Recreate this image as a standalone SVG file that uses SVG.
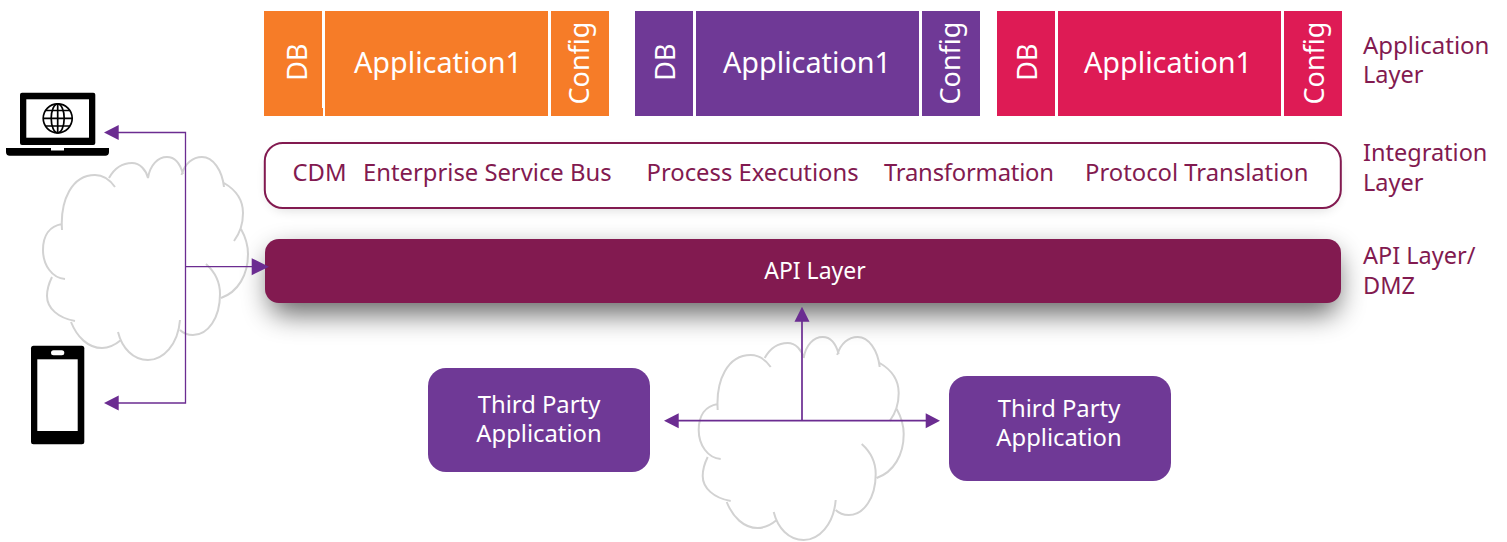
<svg xmlns="http://www.w3.org/2000/svg" width="1507" height="542" viewBox="0 0 1507 542">
<style>
text{font-family:"Noto Sans","Open Sans","Liberation Sans",sans-serif}
.w{fill:#fff}
.m{fill:#821a50}
.app{font-size:28.800px;text-anchor:middle}
.side{font-size:27px;text-anchor:middle}
.lay{font-size:23.500px}
.int{font-size:23.800px}
.tp{font-size:23.800px;text-anchor:middle}
.org{fill:#f67c28}.pur{fill:#6f3996}.red{fill:#de1b55}
.cloud{fill:none;stroke:#d2d2d2;stroke-width:2}
.ln{fill:none;stroke:#6b2c91}
.ah{fill:#6b2c91}
</style>
<defs>
<filter id="sh" x="-5%" y="-80%" width="110%" height="300%"><feGaussianBlur stdDeviation="14"/></filter>
<filter id="sh2" x="-5%" y="-40%" width="110%" height="180%"><feGaussianBlur stdDeviation="6"/></filter>
<g id="cl">
<path class="cloud" d="M62 230C60 200 72 175 95 175C104 175 110 180 115 187M109 178C114 169 122 163 132 163C140 163 146 170 148 178M148 178C150 165 158 157 167 157C174 157 180 163 183 174M181.500 175C185 163 193 157 202 157C213 157 222 170 224 187M224 183C236 190 243 200 243 213C243 224 240 233 234 241M241 229C246 238 248 245 248 254C248 275 238 292 221 298M206 264C215 272 220 282 220 294C220 318 208 335 193 335C188 335 183 333 180 330M180 320C178 345 163 360 148 360C133 360 122 348 118 332M121 340C115 345 109 348 102 348C88 348 77 337 71 322M75 321C58 318 47 308 47 296C47 289 49 283 52 277M65 279C52 278 43 265 43 250C43 235 50 226 62 224"/>
</g>
</defs>
<g id="cloud-left"><use href="#cl"/></g>
<g id="cloud-bottom"><use href="#cl" x="655.700" y="180"/></g>
<g id="app-orange">
<rect class="org" x="264" y="11" width="58" height="105"/><rect class="org" x="322" y="108" width="1" height="8"/><rect class="org" x="325" y="11" width="223" height="105"/><rect class="org" x="551" y="11" width="58" height="105"/>
<text class="side w" transform="translate(307,62) rotate(-90)">DB</text>
<text class="app w" x="438" y="73">Application1</text>
<text class="side w" transform="translate(588.500,63) rotate(-90)">Config</text>
</g>
<g id="app-purple">
<rect class="pur" x="635" y="11" width="58" height="105"/><rect class="pur" x="696" y="11" width="223" height="105"/><rect class="pur" x="922" y="11" width="58" height="105"/>
<text class="side w" transform="translate(675,62) rotate(-90)">DB</text>
<text class="app w" x="807" y="73">Application1</text>
<text class="side w" transform="translate(960,63) rotate(-90)">Config</text>
</g>
<g id="app-red">
<rect class="red" x="997" y="11" width="58" height="105"/><rect class="red" x="1058" y="11" width="223" height="105"/><rect class="red" x="1284" y="11" width="58" height="105"/>
<text class="side w" transform="translate(1037,62) rotate(-90)">DB</text>
<text class="app w" x="1168" y="73">Application1</text>
<text class="side w" transform="translate(1324,63) rotate(-90)">Config</text>
</g>
<g id="integration-layer">
<rect x="268" y="150" width="1070" height="60" rx="18" fill="#000" opacity=".14" filter="url(#sh2)"/>
<rect x="264.800" y="143" width="1076" height="65" rx="18" fill="#fff" stroke="#821a50" stroke-width="2"/>
<text class="int m" x="292.500" y="181">CDM</text>
<text class="int m" x="363" y="181">Enterprise Service Bus</text>
<text class="int m" x="646.500" y="181">Process Executions</text>
<text class="int m" x="884" y="181" textLength="170">Transformation</text>
<text class="int m" x="1085" y="181">Protocol Translation</text>
</g>
<g id="api-layer">
<rect x="270" y="252" width="1068" height="62" rx="14" fill="#000" opacity=".6" filter="url(#sh)"/>
<rect x="265" y="239" width="1076" height="64" rx="14" fill="#821a50"/>
<text class="w" x="815" y="279" font-size="23" text-anchor="middle">API Layer</text>
</g>
<g id="third-party-1">
<rect class="pur" x="428" y="368" width="222" height="104" rx="18"/>
<text class="tp w" x="539" y="413">Third Party</text><text class="tp w" x="539" y="442">Application</text>
</g>
<g id="third-party-2">
<rect class="pur" x="949" y="376" width="222" height="105" rx="18"/>
<text class="tp w" x="1059" y="417">Third Party</text><text class="tp w" x="1059" y="446">Application</text>
</g>
<g id="laptop">
<rect x="20" y="92.700" width="75.300" height="52.300" rx="2" fill="#000"/>
<rect x="26.300" y="99.300" width="62.700" height="38.400" fill="#fff"/>
<path d="M6 148H51V150.500H64V148H109V152A3.700 3.700 0 0 1 105.300 155.700H9.700A3.700 3.700 0 0 1 6 152Z" fill="#000"/>
<g fill="none" stroke="#000" stroke-width="1.700"><circle cx="57.700" cy="118.300" r="14.500"/><ellipse cx="57.700" cy="118.300" rx="6.500" ry="14.500"/><path d="M57.700 103.800V132.800M43.200 118.300H72.200M45.500 110.500H70M45.500 126H70"/></g>
</g>
<g id="phone">
<rect x="31" y="345.700" width="53.300" height="98.600" rx="2.500" fill="#000"/>
<rect x="37.300" y="359.300" width="40.400" height="71.700" fill="#fff"/>
<rect x="51" y="350.300" width="13.300" height="5" rx="2.500" fill="#fff"/>
</g>
<g id="connectors">
<path class="ln" stroke-width="1.300" d="M116 132.500H185.500V403H116M185.500 266.700H253"/>
<path class="ah" d="M104 132.500L118.700 125V140ZM104 403L118.700 395.500V410.500ZM269 266.700L251.700 258.200V275.200Z"/>
<path class="ln" stroke-width="1.700" d="M677 420.700H927M802 420.700V320"/>
<path class="ah" d="M664 420.700L678.700 413.200V428.200ZM940 420.700L925.700 413.200V428.200ZM802 306.700L794.500 321.700H809.500Z"/>
</g>
<g id="layer-labels">
<text class="m" x="1363" y="54" font-size="24">Application</text><text class="lay m" x="1363" y="83">Layer</text>
<text class="lay m" x="1363" y="161">Integration</text><text class="lay m" x="1363" y="191">Layer</text>
<text class="lay m" x="1363" y="264">API Layer/</text><text class="lay m" x="1363" y="294">DMZ</text>
</g>
</svg>
